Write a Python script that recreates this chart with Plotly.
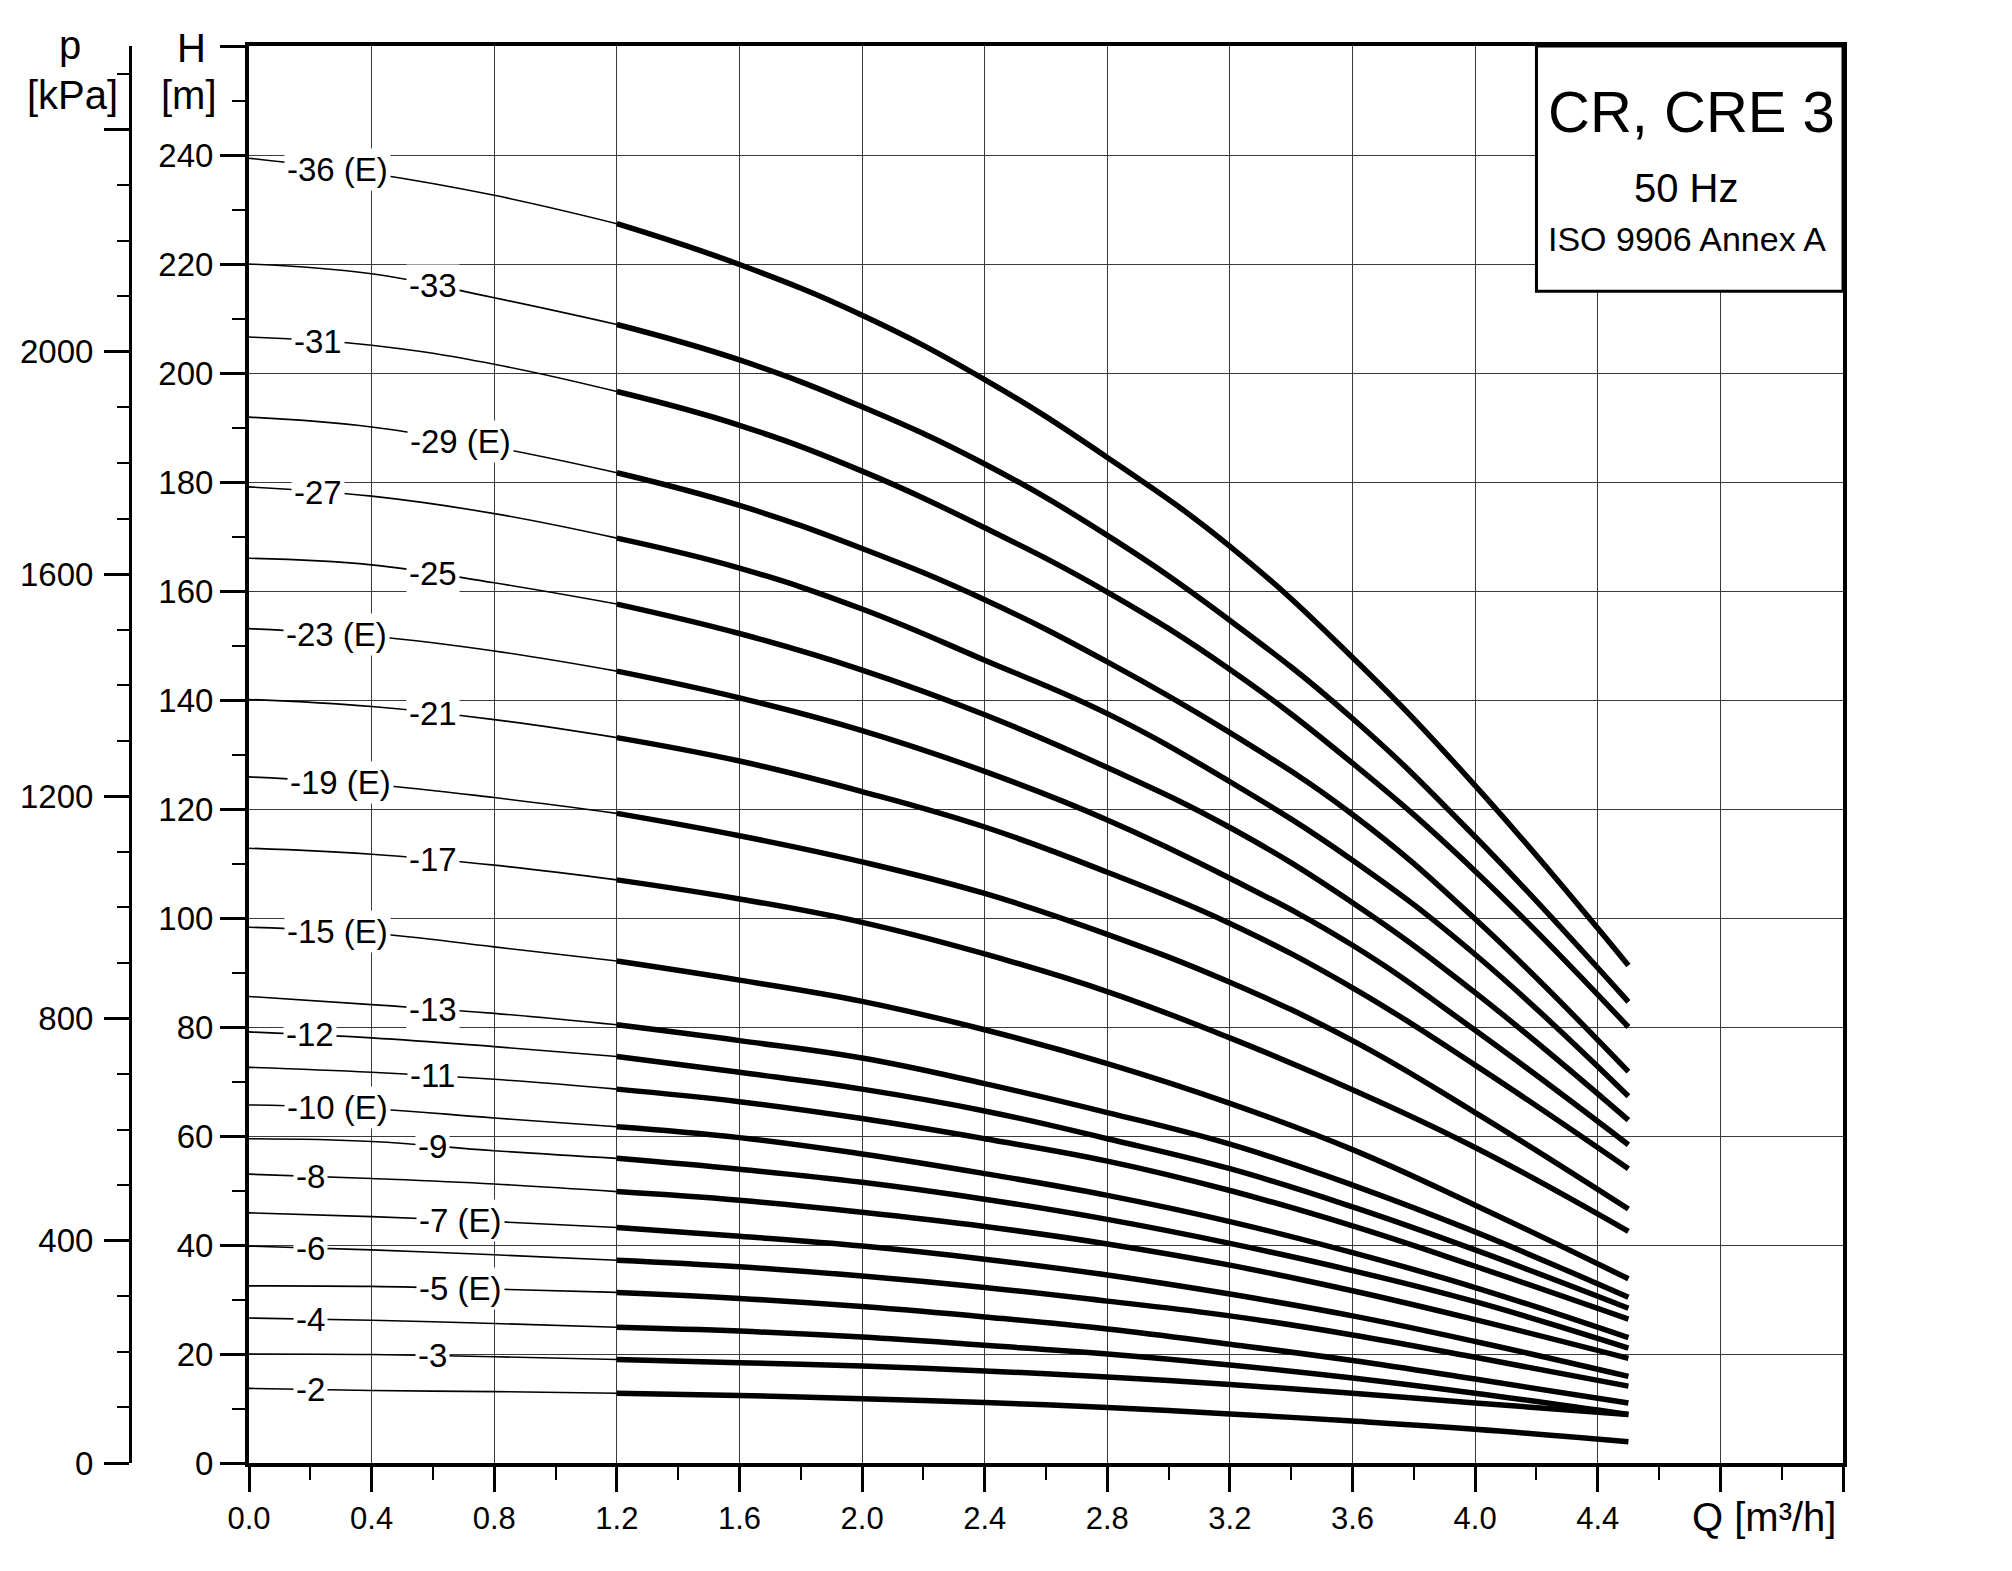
import numpy as np
import plotly.graph_objects as go

# Flow rate sample points [m3/h]
Q = [0.0, 0.4, 0.8, 1.2, 1.6, 2.0, 2.4, 2.8, 3.2, 3.6, 4.0, 4.5]

# Head [m] per pump model
h36 = [239.4, 236.6, 232.6, 227.4, 219.9, 210.6, 198.8, 184.5, 168.2, 147.8, 124.3, 91.3]
h33 = [220.0, 218.2, 213.8, 208.9, 202.4, 193.8, 183.3, 170.2, 154.6, 136.6, 114.9, 84.6]
h31 = [206.6, 205.1, 201.6, 196.6, 190.4, 182.0, 171.6, 159.8, 145.6, 128.4, 108.6, 80.0]
h29 = [191.9, 190.1, 186.4, 181.7, 175.7, 167.8, 158.4, 147.0, 134.0, 119.0, 99.8, 71.8]
h27 = [179.1, 177.4, 174.2, 169.7, 164.2, 156.7, 147.3, 137.5, 125.0, 110.6, 93.3, 67.3]
h25 = [166.0, 164.8, 161.5, 157.6, 152.2, 145.5, 137.3, 127.6, 116.6, 102.8, 86.3, 62.9]
h23 = [153.1, 151.7, 149.0, 145.3, 140.4, 134.4, 126.9, 118.0, 107.3, 95.0, 79.4, 58.4]
h21 = [140.1, 138.8, 136.4, 133.1, 128.8, 123.2, 116.7, 108.4, 99.0, 87.2, 73.0, 54.0]
h19 = [125.9, 124.5, 122.1, 119.2, 115.1, 110.3, 104.5, 97.0, 88.2, 77.5, 64.3, 46.6]
h17 = [112.8, 111.7, 109.7, 107.0, 103.5, 99.2, 93.4, 86.5, 78.0, 68.5, 57.9, 42.5]
h15 = [98.3, 97.2, 94.7, 92.1, 88.6, 84.7, 79.5, 73.3, 66.0, 57.5, 47.3, 33.8]
h13 = [85.6, 84.1, 82.5, 80.4, 77.5, 74.3, 69.6, 64.3, 58.5, 51.0, 42.4, 30.4]
h12 = [79.1, 78.0, 76.4, 74.6, 71.7, 68.6, 64.6, 59.5, 54.0, 47.0, 39.1, 28.4]
h11 = [72.6, 71.7, 70.4, 68.6, 66.3, 63.2, 59.5, 55.4, 50.0, 43.5, 36.1, 26.4]
h10 = [65.7, 65.0, 63.3, 61.7, 59.7, 56.7, 53.1, 49.1, 44.3, 38.6, 32.2, 23.0]
h9 = [59.5, 59.0, 57.3, 55.9, 53.9, 51.5, 48.4, 44.7, 40.3, 35.3, 29.6, 21.1]
h8 = [53.0, 52.2, 51.2, 49.8, 48.2, 46.0, 43.4, 40.2, 36.3, 31.6, 26.3, 19.2]
h7 = [45.9, 45.2, 44.3, 43.2, 41.6, 39.8, 37.4, 34.5, 31.0, 27.0, 22.3, 15.9]
h6 = [39.8, 39.1, 38.2, 37.2, 36.0, 34.3, 32.2, 29.7, 27.0, 23.5, 19.4, 14.1]
h5 = [32.5, 32.4, 31.9, 31.3, 30.2, 28.7, 26.8, 24.6, 21.8, 18.8, 15.4, 11.0]
h4 = [26.6, 26.2, 25.6, 24.9, 24.2, 23.1, 21.6, 20.0, 18.0, 15.6, 12.8, 8.9]
h3 = [20.0, 19.9, 19.5, 19.0, 18.4, 17.8, 16.9, 15.8, 14.4, 12.8, 11.0, 8.9]
h2 = [13.7, 13.3, 13.1, 12.8, 12.4, 11.8, 11.1, 10.2, 9.0, 7.7, 6.2, 3.9]

curve_labels = ["-36 (E)", "-33", "-31", "-29 (E)", "-27", "-25", "-23 (E)", "-21",
                "-19 (E)", "-17", "-15 (E)", "-13", "-12", "-11", "-10 (E)", "-9",
                "-8", "-7 (E)", "-6", "-5 (E)", "-4", "-3", "-2"]
label_q = [0.29, 0.60, 0.225, 0.69, 0.225, 0.60, 0.285, 0.60, 0.30, 0.60, 0.29, 0.60,
           0.20, 0.60, 0.29, 0.60, 0.20, 0.69, 0.20, 0.69, 0.20, 0.60, 0.20]
curves = [h36, h33, h31, h29, h27, h25, h23, h21, h19, h17, h15, h13, h12, h11,
          h10, h9, h8, h7, h6, h5, h4, h3, h2]

# Axes
x_tick_vals = [0.0, 0.4, 0.8, 1.2, 1.6, 2.0, 2.4, 2.8, 3.2, 3.6, 4.0, 4.4, 4.8, 5.2]
x_tick_text = ["0.0", "0.4", "0.8", "1.2", "1.6", "2.0", "2.4", "2.8", "3.2", "3.6",
               "4.0", "4.4", "", ""]
h_tick_vals = [0, 20, 40, 60, 80, 100, 120, 140, 160, 180, 200, 220, 240, 260]
h_tick_text = ["0", "20", "40", "60", "80", "100", "120", "140", "160", "180", "200",
               "220", "240", ""]
p_tick_vals = [0, 400, 800, 1200, 1600, 2000, 2400]
p_tick_text = ["0", "400", "800", "1200", "1600", "2000", ""]
H_MAX = 260
Q_MAX = 5.2
KPA_PER_M = 9.81
SPLIT_Q = 1.2

FONT = "Liberation Sans, Arial, sans-serif"

fig = go.Figure()
split = Q.index(SPLIT_Q)
for h in curves:
    fig.add_trace(go.Scatter(x=Q[:split + 1], y=h[:split + 1], mode="lines",
                             line=dict(color="black", width=1.6, shape="spline",
                                       smoothing=1.2),
                             showlegend=False, hoverinfo="skip"))
    fig.add_trace(go.Scatter(x=Q[split:], y=h[split:], mode="lines",
                             line=dict(color="black", width=5.5, shape="spline",
                                       smoothing=1.2),
                             showlegend=False, hoverinfo="skip"))

# invisible trace to activate pressure axis
fig.add_trace(go.Scatter(x=[0], y=[0], yaxis="y2", mode="markers",
                         marker=dict(opacity=0), showlegend=False, hoverinfo="skip"))

annotations = []
for lab, lq, h in zip(curve_labels, label_q, curves):
    annotations.append(dict(x=lq, y=float(np.interp(lq, Q, h)), xref="x", yref="y",
                            text=lab, showarrow=False, bgcolor="white", borderpad=2,
                            font=dict(family=FONT, size=33, color="black"),
                            xanchor="center", yanchor="middle"))

L, R, T, B = 130, 169, 46, 108
W, HGT = 2012, 1571
pw = W - L - R
ph = HGT - T - B


def px(xp):
    return (xp - L) / pw


def py(yp):
    return (HGT - B - yp) / ph


title_font = dict(family=FONT, size=40, color="black")
annotations += [
    dict(x=px(191), y=py(48), xref="paper", yref="paper", text="H", showarrow=False,
         font=title_font, xanchor="center", yanchor="middle"),
    dict(x=px(189), y=py(95), xref="paper", yref="paper", text="[m]", showarrow=False,
         font=title_font, xanchor="center", yanchor="middle"),
    dict(x=px(70), y=py(45), xref="paper", yref="paper", text="p", showarrow=False,
         font=title_font, xanchor="center", yanchor="middle"),
    dict(x=px(72), y=py(95), xref="paper", yref="paper", text="[kPa]", showarrow=False,
         font=title_font, xanchor="center", yanchor="middle"),
    dict(x=px(1764), y=py(1517), xref="paper", yref="paper", text="Q [m³/h]",
         showarrow=False, font=title_font, xanchor="center", yanchor="middle"),
    dict(x=4.705, y=248.0, xref="x", yref="y", text="CR, CRE 3", showarrow=False,
         font=dict(family=FONT, size=58, color="black"), xanchor="center", yanchor="middle"),
    dict(x=4.69, y=234.0, xref="x", yref="y", text="50 Hz", showarrow=False,
         font=dict(family=FONT, size=40, color="black"), xanchor="center", yanchor="middle"),
    dict(x=4.69, y=224.5, xref="x", yref="y", text="ISO 9906 Annex A", showarrow=False,
         font=dict(family=FONT, size=34, color="black"), xanchor="center", yanchor="middle"),
]

shapes = [dict(type="rect", xref="x", yref="y", x0=4.2, x1=Q_MAX, y0=215, y1=H_MAX,
               line=dict(color="black", width=3), fillcolor="white", layer="above")]

grid_color = "#3a3a3a"
fig.update_layout(
    width=W, height=HGT,
    margin=dict(l=L, r=R, t=T, b=B),
    paper_bgcolor="white", plot_bgcolor="white",
    font=dict(family=FONT, color="black"),
    xaxis=dict(domain=[(249 - L) / pw, 1], range=[0, Q_MAX], tickmode="array",
               tickvals=x_tick_vals, ticktext=x_tick_text,
               ticks="outside", ticklen=25, tickwidth=3, tickcolor="black",
               showline=True, linewidth=4, linecolor="black", mirror=True,
               showgrid=True, gridcolor=grid_color, gridwidth=1, zeroline=False,
               tickfont=dict(family=FONT, size=31, color="black"),
               minor=dict(tickmode="linear", tick0=0, dtick=0.2, ticks="outside",
                          ticklen=13, tickwidth=1.5, tickcolor="black", showgrid=False)),
    yaxis=dict(range=[0, H_MAX], tickmode="array", tickvals=h_tick_vals,
               ticktext=h_tick_text, ticks="outside", ticklen=25, tickwidth=3,
               tickcolor="black", showline=True, linewidth=4, linecolor="black",
               mirror=True, showgrid=True, gridcolor=grid_color, gridwidth=1,
               zeroline=False, ticklabelstandoff=0,
               tickfont=dict(family=FONT, size=33, color="black"),
               minor=dict(tickmode="linear", tick0=0, dtick=10, ticks="outside",
                          ticklen=13, tickwidth=1.5, tickcolor="black", showgrid=False)),
    yaxis2=dict(overlaying="y", anchor="free", position=0, side="left",
                range=[0, H_MAX * KPA_PER_M], tickmode="array", tickvals=p_tick_vals,
                ticktext=p_tick_text, ticks="outside", ticklen=25, tickwidth=3,
                tickcolor="black", showline=True, linewidth=3, linecolor="black",
                showgrid=False, zeroline=False, ticklabelstandoff=4,
                tickfont=dict(family=FONT, size=33, color="black"),
                minor=dict(tickmode="linear", tick0=0, dtick=100, ticks="outside",
                           ticklen=12, tickwidth=1.5, tickcolor="black", showgrid=False)),
    annotations=annotations,
    shapes=shapes,
    showlegend=False,
)

fig.write_html("out.html")
